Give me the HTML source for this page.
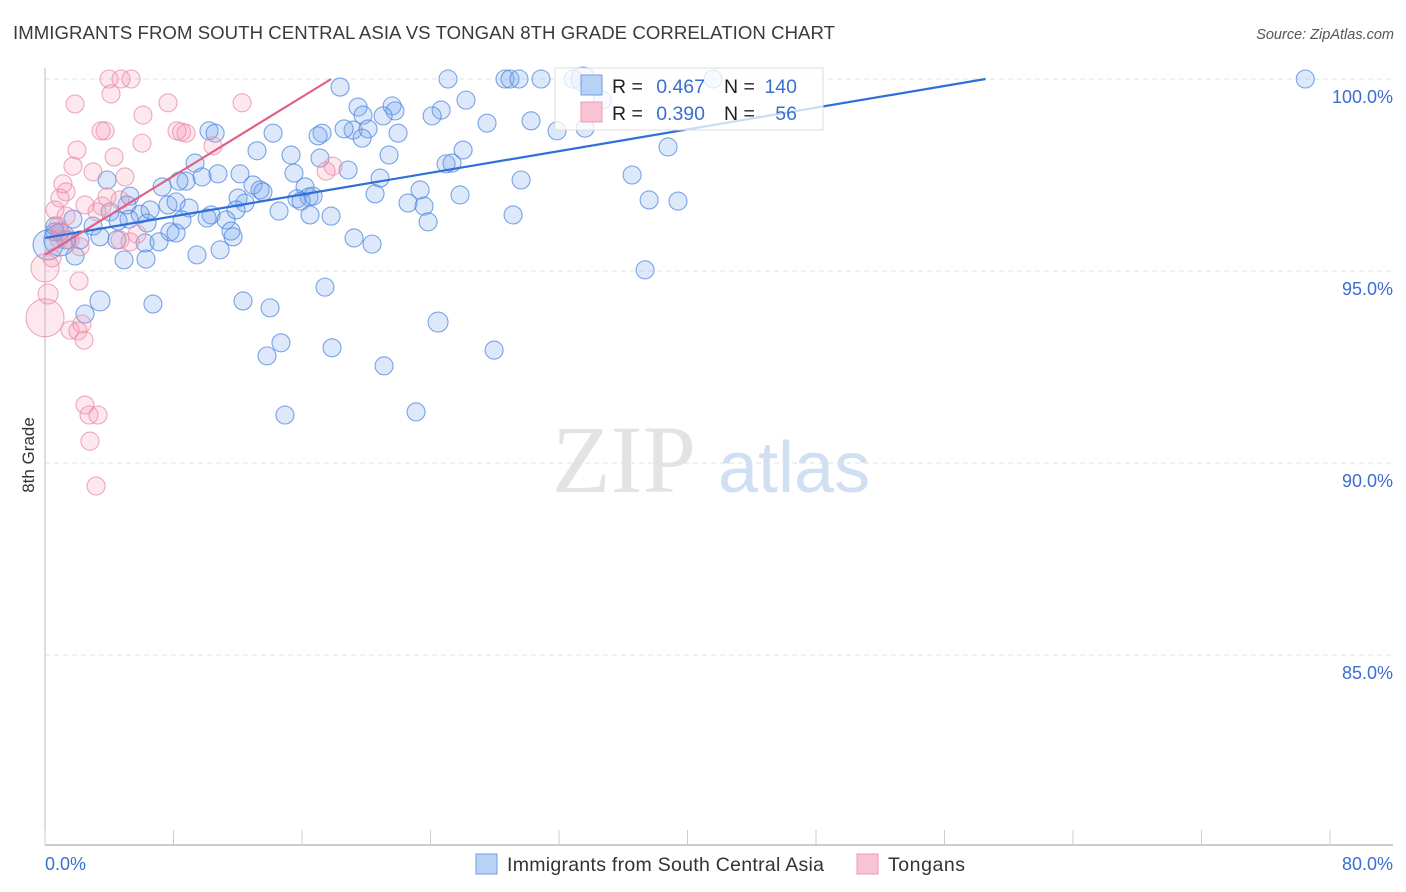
<!DOCTYPE html>
<html><head><meta charset="utf-8"><style>
body{margin:0;background:#fff;width:1406px;height:892px;overflow:hidden;font-family:"Liberation Sans",sans-serif}
svg{position:absolute;left:0;top:0}
</style></head><body>
<svg id="chart" width="1406" height="892" xmlns="http://www.w3.org/2000/svg">
<text x="13" y="39" font-size="18.6" fill="#3a3a3a" textLength="822">IMMIGRANTS FROM SOUTH CENTRAL ASIA VS TONGAN 8TH GRADE CORRELATION CHART</text>
<text x="1394" y="39" font-size="14.5" fill="#555" font-style="italic" text-anchor="end">Source: ZipAtlas.com</text>
<text x="34" y="455" font-size="17" fill="#333" transform="rotate(-90 34 455)" text-anchor="middle">8th Grade</text>
<g><text x="552" y="492" font-size="96" fill="#d8d8d8" font-family="Liberation Serif,serif" opacity="0.7">ZIP</text><text x="718" y="492" font-size="72" fill="#c5d8f0" opacity="0.8">atlas</text></g>
<g id="grid"></g><g id="marks"></g><g id="lines"></g>
<g>
<rect x="555" y="68" width="268" height="62" fill="rgba(255,255,255,0.75)" stroke="#ddd"/>
<rect x="581" y="75" width="21" height="20" fill="#b8d2f5" stroke="#6e9fe0"/>
<rect x="581" y="102" width="21" height="20" fill="#f8c4d3" stroke="#ee9ab3"/>
<text x="612" y="93" font-size="19.5" fill="#222">R =</text>
<text x="705" y="93" font-size="19.5" fill="#3a6fd0" text-anchor="end">0.467</text>
<text x="724" y="93" font-size="19.5" fill="#222">N =</text>
<text x="797" y="93" font-size="19.5" fill="#3a6fd0" text-anchor="end">140</text>
<text x="612" y="120" font-size="19.5" fill="#222">R =</text>
<text x="705" y="120" font-size="19.5" fill="#3a6fd0" text-anchor="end">0.390</text>
<text x="724" y="120" font-size="19.5" fill="#222">N =</text>
<text x="797" y="120" font-size="19.5" fill="#3a6fd0" text-anchor="end">56</text>
</g>
<g>
<rect x="476" y="854" width="21" height="20" fill="#b8d2f5" stroke="#6e9fe0"/>
<text x="507" y="871" font-size="19.5" fill="#333" textLength="317">Immigrants from South Central Asia</text>
<rect x="857" y="854" width="21" height="20" fill="#f8c4d3" stroke="#ee9ab3"/>
<text x="888" y="871" font-size="19.5" fill="#333" textLength="77">Tongans</text>
</g>
</svg>
<script>
const yTicks=[100,95,90,85];
const yTickLabels=["100.0%","95.0%","90.0%","85.0%"];
const xTicks=[0,8,16,24,32,40,48,56,64,72,80];
const xEndLabels=["0.0%","80.0%"];
const blueX=[18.37,25.09,28.64,28.95,29.51,30.88,32.88,41.59,78.46,26.21,19.49,21.61,21.79,24.66,24.10,19.80,21.05,27.52,30.26,19.18,18.62,20.11,17.25,17.00,21.98,10.21,10.59,14.20,31.88,33.62,38.79,26.03,21.42,15.32,13.20,17.12,19.74,24.97,25.34,18.87,9.34,12.14,15.50,20.86,29.64,36.55,3.86,8.78,8.34,10.77,9.78,12.95,13.39,13.57,16.19,16.44,20.55,23.35,25.84,7.29,5.29,4.05,5.11,5.92,5.23,6.54,7.66,8.16,8.97,12.02,12.45,15.69,15.94,16.69,22.60,23.60,23.85,11.89,14.57,16.50,17.81,29.14,37.61,39.41,4.55,2.99,1.74,0.62,0.93,1.31,2.18,3.42,6.35,7.78,8.16,8.53,10.34,10.09,11.27,11.58,11.71,6.23,4.48,7.10,10.90,9.46,4.92,6.29,19.24,20.36,1.87,37.36,17.43,3.42,6.72,12.33,14.01,2.49,24.47,13.82,14.69,17.87,27.96,21.11,14.94,23.10,0.62,0.19,0.93,33.5,34.7];
const blueY=[99.79,100,100,100,100,100,100,100,100,99.45,99.27,99.30,99.17,99.19,99.04,99.06,99.04,98.85,98.91,98.67,98.70,98.70,98.59,98.52,98.59,98.65,98.59,98.59,98.65,98.72,98.23,98.15,98.02,98.02,98.13,97.94,98.46,97.79,97.81,97.63,97.81,97.53,97.55,97.42,97.37,97.50,97.37,97.34,97.34,97.53,97.45,97.24,97.11,97.06,97.19,96.93,97.01,97.11,96.98,97.19,96.95,96.54,96.72,96.48,96.35,96.59,96.72,96.80,96.64,96.90,96.77,96.88,96.82,96.95,96.77,96.69,96.28,96.59,96.56,96.46,96.43,96.46,96.85,96.82,96.30,96.17,96.35,96.17,96.02,95.81,95.81,95.89,96.25,96.02,95.99,96.33,96.46,96.38,96.33,96.04,95.89,95.73,95.81,95.76,95.55,95.42,95.29,95.31,95.86,95.70,95.39,95.03,94.58,94.22,94.14,94.22,94.04,93.88,93.67,92.79,93.13,93.00,92.94,92.53,91.25,91.33,96.02,95.68,95.81,100,99.45];
const blueR=[9,9,9,9,9,9,9,9,9,9,9,9,9,9,9,9,9,9,9,9,9,9,9,9,9,9,9,9,9,9,9,9,9,9,9,9,9,9,9,9,9,9,9,9,9,9,9,9,9,9,9,9,9,9,9,9,9,9,9,9,9,9,9,9,9,9,9,9,9,9,9,9,9,9,9,9,9,9,9,9,9,9,9,9,9,9,9,9,9,9,9,9,9,9,9,9,9,9,9,9,9,9,9,9,9,9,9,9,9,9,9,9,9,10,9,9,9,9,10,9,9,9,9,9,9,9,9,15,16,12,9,9];
const pinkX=[3.99,4.73,5.36,4.11,1.87,7.66,12.27,6.10,3.74,3.49,8.22,8.78,6.04,10.46,1.99,4.30,1.74,2.99,17.93,17.50,1.12,4.98,1.31,0.93,0.62,1.31,2.49,3.55,3.86,4.67,0.87,5.73,4.67,2.18,5.29,0.93,0.44,0,0.19,2.12,0,1.56,2.05,2.43,2.30,2.49,2.74,3.30,2.80,3.18,1.56,0.81,3.24,8.5];
const pinkY=[100,100,100,99.61,99.35,99.38,99.38,99.06,98.65,98.65,98.65,98.59,98.33,98.26,98.15,97.97,97.73,97.58,97.73,97.60,97.27,97.45,97.06,96.90,96.59,96.43,96.72,96.69,96.93,96.85,95.83,95.96,95.81,95.63,95.76,96.02,95.34,95.08,94.40,94.74,93.78,93.46,93.44,93.20,93.62,91.51,91.25,91.25,90.57,89.40,95.81,96.17,96.54,98.62];
const pinkR=[9,9,9,9,9,9,9,9,9,9,9,9,9,9,9,9,9,9,9,9,9,9,9,9,9,9,9,9,9,9,9,9,9,9,9,9,9,14,10,9,19,9,9,9,9,9,9,9,9,9,9,9,9,9];
const trendIntercept=[95.86,95.42];
const trendSlope=[0.0707,0.257];
const NS="http://www.w3.org/2000/svg";
const X=v=>45+v*1285/80, Y=v=>79+(100-v)*38.4;
function mk(t,a,p){const e=document.createElementNS(NS,t);for(const k in a)e.setAttribute(k,a[k]);p.appendChild(e);return e;}
const grid=document.getElementById('grid');
yTicks.forEach((t,i)=>{const l=mk('line',{x1:45,x2:1393,y1:Y(t),y2:Y(t),stroke:'#e2e2e2','stroke-dasharray':'5 4'},grid);


const tx=mk('text',{x:1393,y:Y(t)+24,'font-size':18,fill:'#3a6fd0','text-anchor':'end'},grid);tx.textContent=yTickLabels[i];

});
const ax=mk('line',{x1:45,x2:45,y1:68,y2:845,stroke:'#bbb'},grid);


const bx=mk('line',{x1:45,x2:1393,y1:845,y2:845,stroke:'#bbb','stroke-width':1.5},grid);


xTicks.forEach(t=>{const l=mk('line',{x1:X(t),x2:X(t),y1:830,y2:845,stroke:'#ccc'},grid);

});
[[0,'start'],[80,'end']].forEach((p,i)=>{const tx=mk('text',{x:i?1393:45,y:870,'font-size':18,fill:'#3a6fd0','text-anchor':p[1]},grid);tx.textContent=xEndLabels[i];

});
const marks=document.getElementById('marks');
blueX.forEach((v,i)=>{const c=mk('circle',{cx:X(v),cy:Y(blueY[i]),r:blueR[i],fill:'rgba(120,168,238,0.25)',stroke:'rgba(80,135,220,0.75)','stroke-width':1.1},marks);

});
pinkX.forEach((v,i)=>{const c=mk('circle',{cx:X(v),cy:Y(pinkY[i]),r:pinkR[i],fill:'rgba(245,150,178,0.22)',stroke:'rgba(232,140,170,0.75)','stroke-width':1.1},marks);

});
const lines=document.getElementById('lines');
const cols=['#2f6fd8','#e0608a'];
trendIntercept.forEach((b,i)=>{const xe=(100-b)/trendSlope[i];
const l=mk('line',{x1:X(0),y1:Y(b),x2:X(xe),y2:Y(100),stroke:cols[i],'stroke-width':2.2},lines);

});
</script>
</body></html>
